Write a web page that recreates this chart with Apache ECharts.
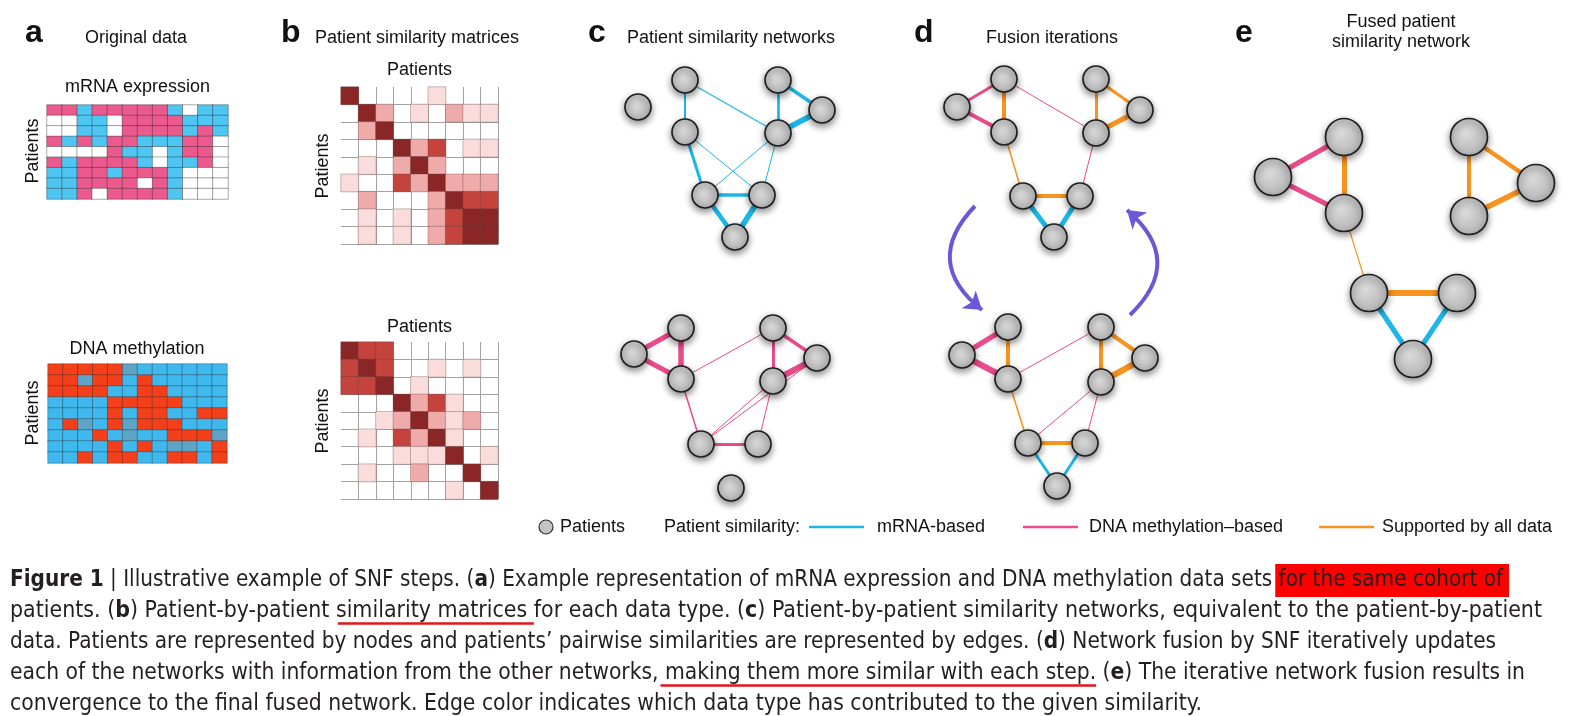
<!DOCTYPE html>
<html>
<head>
<meta charset="utf-8">
<script src="https://cdn.jsdelivr.net/npm/echarts@6/dist/echarts.min.js"></script>
<style>
html, body { margin: 0; padding: 0; background: #fff; }
#chart { width: 1585px; height: 716px; }
</style>
</head>
<body>
<div id="chart"></div>
<script>
// ---- panel a: original data (rows = patients, cols = features) ----
// mRNA: 0 white, 1 pink, 2 blue
var mrnaRows = [
  [1,1,2,1,1,1,1,1,2,0,2,2],
  [0,0,2,2,0,1,1,1,1,2,2,2],
  [0,0,2,2,0,1,1,1,1,2,1,2],
  [1,2,1,2,1,1,2,2,2,1,1,0],
  [0,0,0,0,1,2,2,0,2,1,1,0],
  [1,2,1,1,1,1,2,0,2,2,1,0],
  [2,2,1,1,2,1,1,1,2,0,0,0],
  [2,2,1,1,1,1,0,1,2,0,0,0],
  [2,2,1,0,1,1,1,1,2,0,0,0]
];
// methylation: 0 blue, 1 red, 2 grey-blue
var methRows = [
  [1,1,1,1,1,2,0,0,0,0,0,0],
  [1,1,2,1,1,0,1,0,0,0,0,0],
  [1,1,1,1,0,0,1,1,0,0,0,0],
  [0,0,0,0,1,1,1,1,1,0,0,0],
  [0,0,0,0,1,0,1,1,0,0,1,1],
  [0,1,2,0,1,2,1,1,1,0,0,0],
  [0,0,0,1,0,2,0,0,1,1,1,2],
  [0,0,0,0,1,0,1,0,2,2,0,1],
  [0,0,1,0,1,1,0,0,1,1,0,1]
];

// ---- panel b: similarity levels 0..4 ----
var simMrna = [
  [4,0,0,0,0,1,0,0,0],
  [0,4,2,0,1,0,2,1,1],
  [0,2,4,0,0,0,0,0,0],
  [0,0,0,4,2,3,0,1,1],
  [0,1,0,2,4,2,0,0,0],
  [1,0,0,3,2,4,2,2,2],
  [0,2,0,0,0,2,4,3,3],
  [0,1,0,1,0,2,3,4,4],
  [0,1,0,1,0,2,3,4,4]
];
var simMeth = [
  [4,3,3,0,0,0,0,0,0],
  [3,4,3,0,0,1,0,1,0],
  [3,3,4,0,1,0,0,0,0],
  [0,0,0,4,2,3,1,0,0],
  [0,0,1,2,4,2,1,2,0],
  [0,1,0,3,2,4,1,0,0],
  [0,0,0,1,1,1,4,0,1],
  [0,1,0,0,2,0,0,4,0],
  [0,0,0,0,0,0,1,0,4]
];

var featureIds = ['f1','f2','f3','f4','f5','f6','f7','f8','f9','f10','f11','f12'];
var patientIds = ['p1','p2','p3','p4','p5','p6','p7','p8','p9'];

// ---- networks: node positions (local units) and edges [from, to, type, weight] ----
var cTopNodes = [[48,47],[95,20],[95,72],[188,20],[232,50],[188,73],[115,135],[172,135],[145,177]];
var cTopEdges = [[1,2,'m',2],[1,5,'m',1.3],[3,5,'m',2.7],[3,4,'m',3.5],[5,4,'m',5.5],[2,6,'m',3],
  [2,7,'m',1],[5,6,'m',1],[5,7,'m',1],[6,7,'m',3.5],[6,8,'m',4.7],[7,8,'m',5.7]];

var cBotNodes = [[44,54],[91,28],[91,79],[183,28],[227,58],[183,81],[111,144],[168,144],[141,188]];
var cBotEdges = [[0,1,'d',5],[0,2,'d',5],[1,2,'d',5.5],[2,3,'d',1],[3,5,'d',3],[3,4,'d',3.5],
  [5,4,'d',6],[2,6,'d',1.5],[6,4,'d',1],[6,5,'d',1],[6,7,'d',3],[7,5,'d',1]];

var dTopNodes = [[47,47],[94,19],[94,72],[186,19],[230,50],[186,73],[113,136],[170,136],[144,177]];
var dTopEdges = [[0,1,'d',3],[0,2,'d',4],[1,2,'s',4],[1,5,'d',1],[3,5,'s',3],[3,4,'s',3],
  [5,4,'s',5],[2,6,'s',1.5],[5,7,'d',1],[6,7,'s',4],[6,8,'m',5],[7,8,'m',5]];

var dBotNodes = [[52,55],[98,27],[98,79],[191,27],[235,58],[191,82],[118,143],[175,143],[147,186]];
var dBotEdges = [[0,1,'d',5],[0,2,'d',6],[1,2,'s',4],[2,3,'d',1],[3,5,'s',4],[3,4,'s',4],
  [5,4,'s',6],[2,6,'s',1.5],[5,6,'d',1],[5,7,'d',1],[6,7,'s',4],[6,8,'m',3],[7,8,'m',3]];

var fusedNodes = [[43,77],[114,37],[114,113],[239,37],[306,83],[239,116],[139,193],[227,193],[183,259]];
var fusedEdges = [[0,1,'d',5],[0,2,'d',5],[1,2,'s',5],[3,5,'s',4],[3,4,'s',4.5],[5,4,'s',5.5],
  [2,6,'s',1.2],[6,7,'s',6],[6,8,'m',5],[7,8,'m',5]];

// iteration arrows [start, end] in the arrow grid
var fusionArrows = [[[65,16],[72,120]], [[220,125],[217,20]]];

var edgeColors = { m: '#1db6e6', d: '#ea4b8b', s: '#f7931e' };
var sansFont = '"Liberation Sans", Arial, sans-serif';
var captionFont = '"DejaVu Sans Condensed", "DejaVu Sans", sans-serif';

var chart = echarts.init(document.getElementById('chart'), null, { renderer: 'canvas' });

var grids = [], xAxes = [], yAxes = [], series = [], visualMaps = [];

function addCatGrid(box, cols, rows, split) {
  grids.push({ left: box[0], top: box[1], width: box[2], height: box[3] });
  var i = grids.length - 1;
  var sl = split ? { show: true, interval: 0, showMinLine: false, lineStyle: { color: '#a3a3a3', width: 1 } } : { show: false };
  xAxes.push({ type: 'category', gridIndex: i, data: cols, boundaryGap: true, axisLine: { show: false },
    axisTick: { show: false }, axisLabel: { show: false }, splitLine: sl });
  yAxes.push({ type: 'category', gridIndex: i, data: rows, inverse: true, boundaryGap: true, axisLine: { show: false },
    axisTick: { show: false }, axisLabel: { show: false }, splitLine: sl });
  return i;
}
function addValGrid(box) {
  grids.push({ left: box[0], top: box[1], width: box[2], height: box[3] });
  var i = grids.length - 1;
  xAxes.push({ type: 'value', gridIndex: i, min: 0, max: box[2], show: false });
  yAxes.push({ type: 'value', gridIndex: i, min: 0, max: box[3], inverse: true, show: false });
  return i;
}
function cells(rows, skipZero) {
  var out = [];
  rows.forEach(function (r, ri) {
    r.forEach(function (v, ci) { if (!(skipZero && v === 0)) out.push([ci, ri, v]); });
  });
  return out;
}
function heat(gi, rows, colors, border, skipZero) {
  series.push({ type: 'heatmap', xAxisIndex: gi, yAxisIndex: gi, data: cells(rows, skipZero), silent: true,
    itemStyle: { borderColor: border, borderWidth: 0.7 }, emphasis: { disabled: true } });
  visualMaps.push({ type: 'piecewise', show: false, seriesIndex: series.length - 1, dimension: 2,
    pieces: colors.map(function (c, k) { return { value: k, color: c }; }) });
}
function nodeStyle() {
  return {
    color: { type: 'radial', x: 0.42, y: 0.4, r: 0.65,
      colorStops: [{ offset: 0, color: '#dadada' }, { offset: 1, color: '#b2b2b2' }] },
    borderColor: '#1f1f1f', borderWidth: 1.7,
    shadowBlur: 7, shadowColor: 'rgba(0,0,0,0.45)', shadowOffsetY: 3
  };
}
function network(gi, nodes, edges, size) {
  series.push({
    type: 'graph', coordinateSystem: 'cartesian2d', xAxisIndex: gi, yAxisIndex: gi,
    data: nodes, symbol: 'circle', symbolSize: size, itemStyle: nodeStyle(), silent: true,
    label: { show: false }, emphasis: { disabled: true },
    links: edges.map(function (e) {
      return { source: e[0], target: e[1], lineStyle: { color: edgeColors[e[2]], width: e[3], opacity: 1, curveness: 0 } };
    })
  });
}

// panel a
heat(addCatGrid([47, 105, 181, 94], featureIds, patientIds, false), mrnaRows,
  ['#ffffff', '#ec5a8d', '#4fc5f1'], 'rgba(35,35,35,0.55)', false);
heat(addCatGrid([48, 364, 179, 99], featureIds, patientIds, false), methRows,
  ['#3fb8ee', '#f4401a', '#5ea4c6'], 'rgba(35,35,35,0.5)', false);
// panel b
var bColors = ['#ffffff', '#fadcdc', '#efaaaa', '#c5433d', '#8b2626'];
heat(addCatGrid([341, 87, 157, 157], patientIds, patientIds, true), simMrna, bColors, 'rgba(90,60,60,0.45)', true);
heat(addCatGrid([341, 342, 157, 157], patientIds, patientIds, true), simMeth, bColors, 'rgba(90,60,60,0.45)', true);
// panels c, d, e
network(addValGrid([590, 60, 260, 200]), cTopNodes, cTopEdges, 26);
network(addValGrid([590, 300, 260, 210]), cBotNodes, cBotEdges, 26);
network(addValGrid([910, 60, 260, 200]), dTopNodes, dTopEdges, 26);
network(addValGrid([910, 300, 260, 210]), dBotNodes, dBotEdges, 26);
var ga = addValGrid([910, 190, 260, 140]);
series.push({
  type: 'lines', coordinateSystem: 'cartesian2d', xAxisIndex: ga, yAxisIndex: ga, silent: true,
  symbol: ['none', 'arrow'], symbolSize: 17,
  lineStyle: { color: '#6d56d8', width: 4, opacity: 1, curveness: -0.55 },
  data: fusionArrows.map(function (a) { return { coords: a }; })
});
network(addValGrid([1230, 100, 330, 290]), fusedNodes, fusedEdges, 37);

// ---- texts ----
var els = [];
function txt(s, x, y, size, opt) {
  opt = opt || {};
  els.push({ type: 'text', x: x, y: y, rotation: opt.rot || 0, z: 10, silent: true,
    style: { text: s, fontSize: size, fontFamily: opt.family || sansFont, fontWeight: opt.weight || 'normal',
      fill: opt.fill || '#111', align: opt.align || 'left', verticalAlign: 'middle' } });
}
[['a', 25], ['b', 281], ['c', 588], ['d', 914], ['e', 1235]].forEach(function (p) {
  txt(p[0], p[1], 33, 32, { weight: 'bold' });
});
txt('Original data', 85, 38, 18);
txt('Patient similarity matrices', 315, 38, 18);
txt('Patient similarity networks', 627, 38, 18);
txt('Fusion iterations', 986, 38, 18);
txt('Fused patient', 1401, 22, 18, { align: 'center' });
txt('similarity network', 1401, 42.5, 18, { align: 'center' });
txt('mRNA expression', 137.5, 87, 18, { align: 'center' });
txt('DNA methylation', 137, 349, 18, { align: 'center' });
txt('Patients', 33, 151, 18, { align: 'center', rot: Math.PI / 2 });
txt('Patients', 33, 413, 18, { align: 'center', rot: Math.PI / 2 });
txt('Patients', 419.5, 70, 18, { align: 'center' });
txt('Patients', 419.5, 327.5, 18, { align: 'center' });
txt('Patients', 323, 166, 18, { align: 'center', rot: Math.PI / 2 });
txt('Patients', 323, 421, 18, { align: 'center', rot: Math.PI / 2 });

// legend
var ly = 527;
els.push({ type: 'circle', shape: { cx: 546, cy: ly, r: 7 }, z: 10, silent: true,
  style: { fill: '#c4c4c4', stroke: '#333', lineWidth: 1.2 } });
txt('Patients', 560, ly, 18);
txt('Patient similarity:', 664, ly, 18);
[[809, 'm', 'mRNA-based', 877], [1023, 'd', 'DNA methylation\u2013based', 1089], [1319, 's', 'Supported by all data', 1382]]
  .forEach(function (l) {
    els.push({ type: 'line', shape: { x1: l[0], y1: ly, x2: l[0] + 55, y2: ly }, z: 10, silent: true,
      style: { stroke: edgeColors[l[1]], lineWidth: 2.5 } });
    txt(l[2], l[3], ly, 18);
  });

// caption: segments [text, style]  b = bold, h = highlight, u = underline
var captionLines = [
  [['Figure 1', 'b'], [' | ', ''], ['Illustrative example of SNF steps. (', ''], ['a', 'b'],
   [') Example representation of mRNA expression and DNA methylation data sets', ''], [' for the same cohort of', 'h']],
  [['patients. (', ''], ['b', 'b'], [') Patient-by-patient ', ''], ['similarity matrices ', 'u'],
   ['for each data type. (', ''], ['c', 'b'], [') Patient-by-patient similarity networks, equivalent to the patient-by-patient', '']],
  [['data. Patients are represented by nodes and patients\u2019 pairwise similarities are represented by edges. (', ''],
   ['d', 'b'], [') Network fusion by SNF iteratively updates', '']],
  [['each of the networks with information from the other networks,', ''], [' making them more similar with each step.', 'u'],
   [' (', ''], ['e', 'b'], [') The iterative network fusion results in', '']],
  [['convergence to the final fused network. Edge color indicates which data type has contributed to the given similarity.', '']]
];
var captionY = [580, 611, 642, 673, 704];
var captionRight = [1503, 1542, 1496, 1525, 1202];
var capSize = 23.5;

var ctx = document.createElement('canvas').getContext('2d');
function segFont(st, size) { return (st === 'b' ? 'bold ' : 'normal ') + size + 'px ' + captionFont; }
function segW(seg, size) { ctx.font = segFont(seg[1], size); return ctx.measureText(seg[0]).width; }

captionLines.forEach(function (line, li) {
  var x = 10, y = captionY[li];
  var full = line.reduce(function (s, g) { return s + segW(g, capSize); }, 0);
  var sx = (captionRight[li] - 10) / full;
  line.forEach(function (g) {
    var w = segW(g, capSize) * sx;
    if (g[1] === 'h') {
      els.push({ type: 'rect', shape: { x: x + 3, y: y - 16, width: w + 3, height: 33 }, z: 5, silent: true,
        style: { fill: '#ff0000' } });
    }
    if (g[1] === 'u') {
      els.push({ type: 'line', shape: { x1: x + 2, y1: y + 12.5, x2: x + w, y2: y + 12.5 }, z: 11, silent: true,
        style: { stroke: '#e3141b', lineWidth: 2.6 } });
    }
    els.push({ type: 'text', x: x, y: y, scaleX: sx, z: 10, silent: true,
      style: { text: g[0], fontSize: capSize, fontFamily: captionFont, fontWeight: g[1] === 'b' ? 'bold' : 'normal',
        fill: '#231f20', verticalAlign: 'middle' } });
    x += w;
  });
});

chart.setOption({
  animation: false,
  backgroundColor: '#ffffff',
  grid: grids,
  xAxis: xAxes,
  yAxis: yAxes,
  visualMap: visualMaps,
  series: series,
  graphic: { elements: els }
});
</script>
</body>
</html>
